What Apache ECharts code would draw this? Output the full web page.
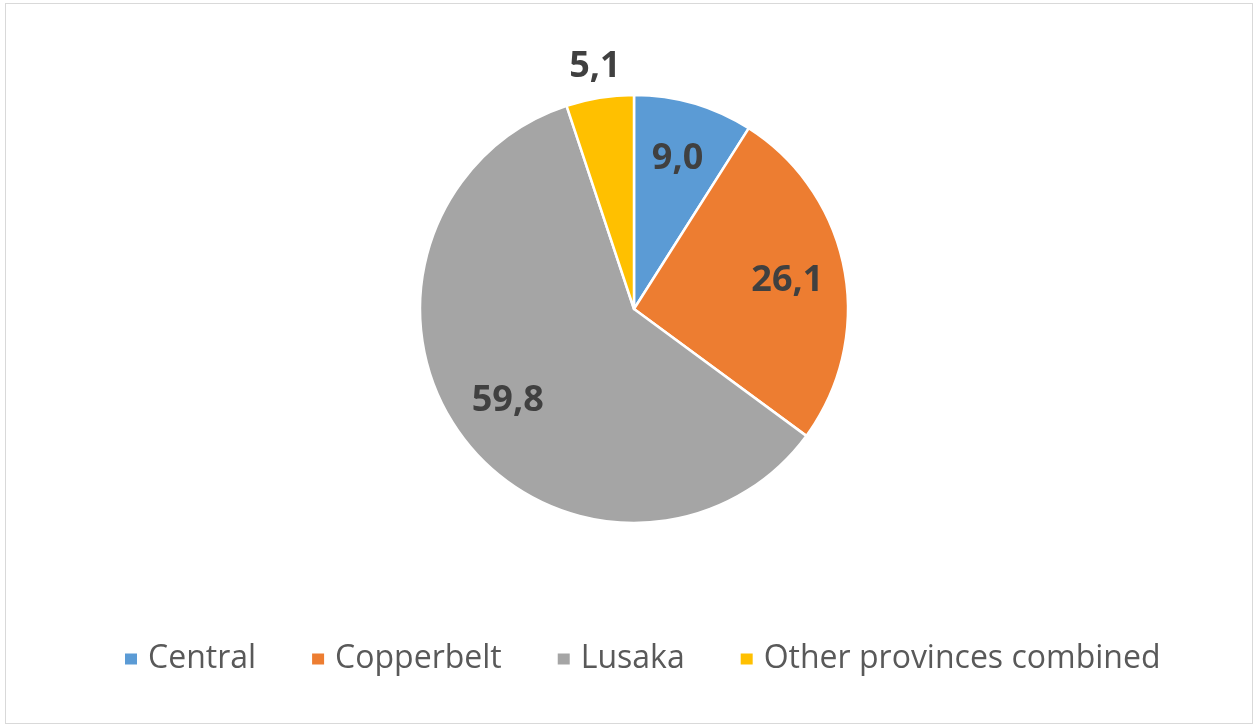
<!DOCTYPE html>
<html>
<head>
<meta charset="utf-8">
<script src="https://cdn.jsdelivr.net/npm/echarts@6/dist/echarts.min.js"></script>
<style>
  html, body { margin: 0; padding: 0; background: #ffffff; }
  #frame {
    position: absolute; left: 5px; top: 3px;
    width: 1246px; height: 719px;
    border: 1px solid #d9d9d9;
  }
  #chart { position: absolute; left: 0; top: 0; width: 1258px; height: 727px; }
</style>
</head>
<body>
<div id="frame"></div>
<div id="chart"></div>
<script>
// Share by province (%)
const categories = ['Central', 'Copperbelt', 'Lusaka', 'Other provinces combined'];
const values = [9.0, 26.1, 59.8, 5.1];
const colors = ['#5B9BD5', '#ED7D31', '#A5A5A5', '#FFC000'];

const fmt = v => v.toFixed(1).replace('.', ',');
const FONT = '"Open Sans", "Noto Sans", sans-serif';
const CENTER = [634, 309];

const labelStyle = {
  fontFamily: FONT,
  fontWeight: 'bold',
  fontSize: 36,
  color: '#404040',
  formatter: p => fmt(p.value)
};

// Visible slices
const slices = categories.map((name, i) => ({
  name, value: values[i], itemStyle: { color: colors[i] }
}));

// Label rings: transparent copies of the pie whose "inside" label
// position lands at the wanted distance from the centre.
const innerLabels = categories.map((name, i) => ({
  name, value: values[i],
  label: { show: i < 3 }
}));
const outerLabels = categories.map((name, i) => ({
  name, value: values[i],
  label: { show: i === 3 }
}));

const chart = echarts.init(document.getElementById('chart'), null, { renderer: 'canvas' });
chart.setOption({
  backgroundColor: 'transparent',
  animation: false,
  color: colors,
  legend: {
    data: categories,
    left: 118,
    top: 638,
    icon: 'rect',
    itemWidth: 14,
    itemHeight: 13,
    itemGap: 54,
    textStyle: {
      fontFamily: FONT, fontSize: 32, color: '#595959',
      padding: [0, 0, 0, 5]
    }
  },
  series: [
    {
      type: 'pie',
      center: CENTER,
      radius: [0, 214],
      startAngle: 90,
      clockwise: true,
      itemStyle: { borderColor: '#ffffff', borderWidth: 2.5 },
      label: { show: false },
      labelLine: { show: false },
      emphasis: { disabled: true },
      data: slices
    },
    {
      type: 'pie',
      center: CENTER,
      radius: [0, 306],
      startAngle: 90,
      clockwise: true,
      silent: true,
      itemStyle: { color: 'rgba(0,0,0,0)', borderWidth: 0 },
      label: Object.assign({ position: 'inside' }, labelStyle),
      labelLine: { show: false },
      emphasis: { disabled: true },
      data: innerLabels
    },
    {
      type: 'pie',
      center: CENTER,
      radius: [0, 484],
      startAngle: 90,
      clockwise: true,
      silent: true,
      itemStyle: { color: 'rgba(0,0,0,0)', borderWidth: 0 },
      label: Object.assign({ position: 'inside' }, labelStyle),
      labelLine: { show: false },
      emphasis: { disabled: true },
      data: outerLabels
    }
  ]
});
</script>
</body>
</html>
